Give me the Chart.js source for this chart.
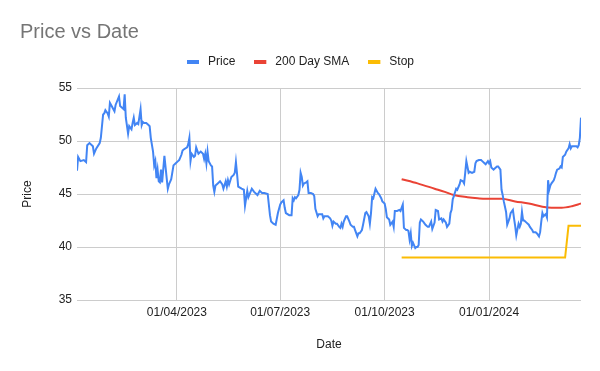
<!DOCTYPE html>
<html><head><meta charset="utf-8">
<script src="https://cdn.jsdelivr.net/npm/chart.js@4"></script>
<style>html,body{margin:0;padding:0;background:#fff}</style>
</head><body>
<canvas id="c" width="600" height="371"></canvas>
<script>
// x values are days counted from 2023-01-01 (day 0)
const seriesNames = ['Price', '200 Day SMA', 'Stop'];
const priceDays = [2,3,5,8,10,11,13,16,17,19,22,23,25,26,27,29,30,31,33,35,36,39,40,42,43,44,45,47,48,50,51,52,53,55,56,58,59,60,61,63,65,66,67,69,70,71,72,73,74,75,76,77,79,81,82,83,85,87,89,91,92,94,95,96,99,100,101,102,103,105,106,107,109,111,113,114,115,116,117,118,120,121,122,123,124,126,128,130,131,133,134,135,136,138,140,141,142,143,144,147,149,150,152,153,156,158,161,163,165,167,170,172,173,175,177,179,181,182,184,185,186,189,191,192,193,194,195,197,198,199,200,201,202,204,205,206,208,210,211,212,214,215,216,218,219,220,222,223,225,226,227,228,230,231,233,234,235,236,237,239,240,242,243,245,246,247,249,250,251,253,254,256,257,259,260,261,262,263,265,267,268,270,271,273,274,275,277,278,280,281,282,284,286,287,289,290,292,293,294,295,296,297,298,300,301,302,303,304,305,307,309,311,312,314,315,317,318,320,321,323,324,325,327,328,330,331,332,333,334,336,337,339,340,342,343,344,345,347,348,350,352,353,354,356,358,359,361,362,364,365,366,367,369,370,372,373,375,376,377,378,380,381,383,384,386,387,388,389,391,392,393,394,395,396,398,400,401,403,404,406,407,409,410,411,412,413,415,416,417,418,419,420,422,423,424,425,427,428,429,430,432,433,435,436,437,438,440,442,443,444,445,446];
const priceValues = [47.2,48.5,48.1,48.2,48.0,49.6,49.8,49.5,48.8,49.3,49.8,50.3,52.5,52.6,52.9,52.6,52.3,53.6,53.2,52.8,53.4,54.2,53.3,53.1,53.0,54.4,52.2,50.7,51.4,51.1,51.7,52.2,51.5,51.7,51.6,53.0,51.5,51.8,51.7,51.7,51.5,51.4,50.3,49.0,47.7,48.1,46.5,47.3,46.2,46.1,47.3,46.1,48.6,46.5,45.5,45.9,46.4,47.7,47.9,48.1,48.2,48.7,49.1,49.2,49.4,49.7,50.3,48.1,48.8,48.5,48.6,49.4,48.8,49.0,48.8,48.3,48.8,47.9,49.0,48.1,47.7,47.6,45.8,45.2,45.8,46.0,46.2,45.9,45.5,46.2,45.7,46.3,45.9,46.6,46.8,47.0,48.0,46.9,45.7,45.5,45.4,43.9,45.3,44.7,45.5,45.2,44.9,45.3,45.1,45.1,45.0,43.0,42.4,42.2,42.1,43.2,44.0,44.2,44.4,43.7,43.2,43.0,43.0,44.6,44.4,44.7,44.6,44.9,45.4,47.0,46.6,45.8,46.0,46.1,46.2,45.1,45.1,45.0,44.8,43.6,42.9,43.1,43.1,43.1,42.7,42.9,42.9,42.9,42.7,42.5,42.0,42.4,42.2,42.2,41.9,41.8,42.2,41.9,42.4,42.9,42.9,42.4,42.1,41.9,41.9,41.6,41.0,41.3,41.3,41.6,42.1,43.2,43.3,42.9,42.2,43.2,44.7,44.6,45.5,45.1,45.0,44.6,44.3,44.1,43.6,42.8,42.6,42.1,42.4,41.9,43.4,43.4,43.5,43.4,44.0,41.8,41.6,41.6,41.5,40.7,41.3,40.1,40.4,39.9,40.0,40.0,40.2,42.3,42.6,42.4,42.1,41.9,41.9,42.4,41.7,42.3,43.5,43.4,42.6,42.7,42.4,42.6,42.3,41.9,42.2,43.2,43.5,44.5,44.8,45.5,45.4,45.9,46.3,46.2,46.0,47.0,48.1,47.0,47.1,47.0,47.1,47.9,48.1,48.2,48.2,48.1,47.9,47.8,48.1,47.9,48.1,47.5,47.3,47.4,47.6,47.6,47.3,45.4,44.9,44.3,43.3,42.1,42.7,43.2,43.5,42.7,42.0,41.1,42.2,41.9,42.2,43.3,42.5,42.5,42.3,42.1,41.9,41.6,41.4,41.4,41.3,41.0,41.4,42.4,43.2,42.9,43.1,42.8,46.3,45.4,45.8,46.0,46.3,46.6,47.0,47.3,47.4,47.6,47.5,48.5,48.7,49.0,49.3,49.7,49.3,49.5,49.5,49.5,49.4,49.6,50.3,52.2];
const smaDays = [288,302,317,326,334,346,355,362,370,376,388,400,412,420,429,438,446];
const smaValues = [46.4,46.0,45.5,45.2,44.9,44.7,44.6,44.55,44.55,44.55,44.3,44.1,43.8,43.7,43.7,43.85,44.1];
const stopDays = [288,432,435,446];
const stopValues = [39,39,42,42];
const tickDays = [90,181,273,365];
const tickLabels = ['01/04/2023','01/07/2023','01/10/2023','01/01/2024'];
const yTicks = [35,40,45,50,55];

const colors = ['#4285F4','#EA4335','#FBBC04'];
Chart.defaults.font.family = "'Liberation Sans', Arial, sans-serif";
Chart.defaults.font.size = 12;
Chart.defaults.color = '#222222';

const toPts = (xs, ys) => xs.map((d, i) => ({x: d, y: ys[i]}));
function marker(color) {
  const c = document.createElement('canvas');
  c.width = 15; c.height = 4;
  const g = c.getContext('2d');
  g.fillStyle = color; g.fillRect(0, 0, 12, 4);
  return c;
}
const markers = colors.map(marker);
const lineDs = (i, data, extra) => Object.assign({
  label: seriesNames[i], data, borderColor: colors[i], backgroundColor: colors[i],
  borderWidth: 2, pointRadius: 0, pointHoverRadius: 0, tension: 0, fill: false
}, extra || {});

new Chart(document.getElementById('c'), {
  type: 'line',
  data: { datasets: [
    lineDs(0, toPts(priceDays, priceValues)),
    lineDs(1, toPts(smaDays, smaValues), {cubicInterpolationMode: 'monotone'}),
    lineDs(2, toPts(stopDays, stopValues))
  ]},
  options: {
    responsive: false, animation: false, parsing: false,
    layout: {padding: {left: 20, right: 19, top: 0, bottom: 0}},
    plugins: {
      tooltip: {enabled: false},
      title: {display: true, text: 'Price vs Date', align: 'start', color: '#757575',
        font: {size: 20, weight: 'normal'}, padding: {top: 20, bottom: -7}},
      legend: {display: true, position: 'top', align: 'center',
        labels: {usePointStyle: true, pointStyleWidth: 15, padding: 19, color: '#222222',
          font: {size: 12},
          generateLabels(chart) {
            const items = Chart.defaults.plugins.legend.labels.generateLabels(chart);
            items.forEach((it, i) => { it.pointStyle = markers[i]; });
            return items;
          }}}
    },
    scales: {
      x: {type: 'linear', position: 'bottom', min: priceDays[0], max: priceDays[priceDays.length - 1],
        afterBuildTicks(s) { s.ticks = tickDays.map(v => ({value: v})); },
        ticks: {callback: (v) => tickLabels[tickDays.indexOf(v)], padding: 5, maxRotation: 0, autoSkip: false, color: '#222222'},
        grid: {color: '#cccccc', drawTicks: false, lineWidth: 1},
        border: {display: false},
        title: {display: true, text: 'Date', color: '#222222', font: {size: 12}, padding: {top: 0, bottom: 19}},
        afterFit(s) { s.height = 71; }},
      xTop: {type: 'linear', position: 'top', display: true,
        ticks: {display: false}, grid: {display: false, drawTicks: false}, border: {display: false},
        afterFit(s) { s.height = 10; }},
      y: {type: 'linear', min: 35, max: 55,
        afterBuildTicks(s) { s.ticks = yTicks.map(v => ({value: v})); },
        ticks: {padding: 5, color: '#222222'},
        grid: {color: '#cccccc', drawTicks: false, lineWidth: 1},
        border: {display: false},
        title: {display: true, text: 'Price', color: '#222222', font: {size: 12}, padding: {top: 0, bottom: 0}},
        afterFit(s) { s.width = 57; }}
    }
  }
});
</script>
</body></html>
